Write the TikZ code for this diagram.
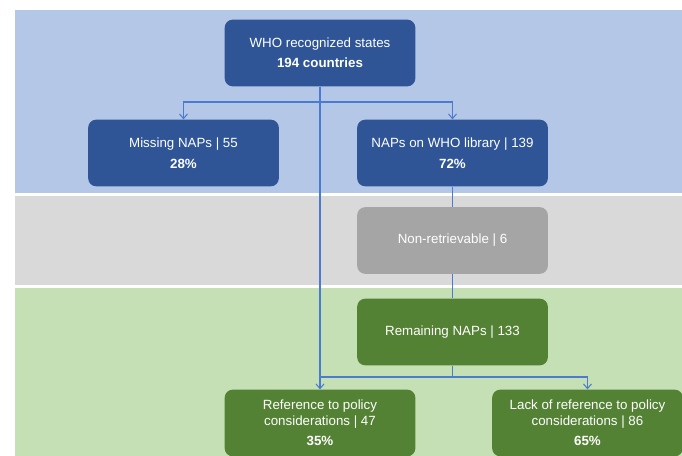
\documentclass[tikz,border=0pt]{standalone}
\usepackage{fontspec}
\setmainfont{Liberation Sans}
\usetikzlibrary{arrows.meta}
\definecolor{bandblue}{HTML}{B4C7E7}
\definecolor{bandgrey}{HTML}{D9D9D9}
\definecolor{bandgreen}{HTML}{C5E0B4}
\definecolor{boxblue}{HTML}{2F5597}
\definecolor{boxgrey}{HTML}{A5A5A5}
\definecolor{boxgreen}{HTML}{548235}
\definecolor{linkblue}{HTML}{4A7BD0}
\begin{document}
\begin{tikzpicture}[x=0.75pt, y=-0.75pt,
    box/.style={rounded corners=6pt, minimum width=143pt, minimum height=50pt,
      text=white, align=center, font=\fontsize{10}{12}\selectfont},
    bluebox/.style={box, fill=boxblue},
    greybox/.style={box, fill=boxgrey},
    greenbox/.style={box, fill=boxgreen},
    link/.style={draw=linkblue, line width=0.8pt},
    arr/.style={link, -{Straight Barb[length=3.5pt, width=6pt]}}]
  \useasboundingbox (0,0) rectangle (682,456);
  % background bands
  \fill[bandblue] (15,10) rectangle (682,193);
  \fill[bandgrey] (15,196) rectangle (682,285);
  \fill[bandgreen] (15,288) rectangle (682,456);
  \draw
    (320,53) node[bluebox] (who) {WHO recognized states\\[3pt]\textbf{194 countries}}
    (183.5,153) node[bluebox] (missing) {Missing NAPs | 55\\[3.5pt]\textbf{28\%}}
    (452.5,153) node[bluebox] (library) {NAPs on WHO library | 139\\[3.5pt]\textbf{72\%}}
    (452.5,240.5) node[greybox] (nonret) {Non-retrievable | 6}
    (452.5,332) node[greenbox] (remaining) {Remaining NAPs | 133}
    (320,423) node[greenbox] (ref) {Reference to policy\\considerations | 47\\[3pt]\textbf{35\%}}
    (587.5,423) node[greenbox] (lack) {Lack of reference to policy\\considerations | 86\\[3pt]\textbf{65\%}};
  \coordinate (split1) at (320,102);
  \coordinate (split2) at (452.5,377);
  \begin{scope}
    \draw[arr] (who.south) -- (ref.north);
    \draw[arr] (split1) -| (missing.north);
    \draw[arr] (split1) -| (library.north);
    \draw[link] (library.south) -- (nonret.north);
    \draw[link] (nonret.south) -- (remaining.north);
    \draw[link] (remaining.south) -- (split2);
    \draw[link] (split2) -- (split2 -| ref.north);
    \draw[arr] (split2) -| (lack.north);
  \end{scope}
\end{tikzpicture}
\end{document}
